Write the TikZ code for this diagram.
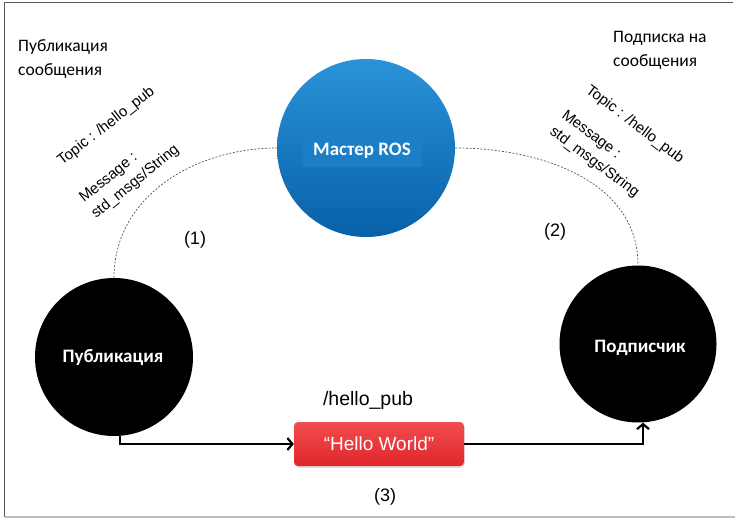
\documentclass[tikz,border=0pt]{standalone}
\usepackage{fontspec}
\setmainfont{Carlito}
\newfontfamily\arialf{Liberation Sans}
\usetikzlibrary{arrows.meta,shadows}
\definecolor{mblueTop}{HTML}{2A93D8}
\definecolor{mblueBot}{HTML}{0860A8}
\definecolor{mblueBox}{HTML}{1C7EC6}
\definecolor{redTop}{HTML}{F24D50}
\definecolor{redBot}{HTML}{DF2629}
\definecolor{frameDark}{HTML}{5A5A5A}
\definecolor{frameLight}{HTML}{BDBDBD}
\definecolor{dashGrey}{HTML}{555555}
\tikzset{
  x=1pt, y=-1pt,
  bignode/.style={circle, fill=black, inner sep=0pt, text=white,
    font=\bfseries\fontsize{19}{22}\selectfont},
  titletext/.style={anchor=north west, align=left, inner sep=0pt,
    font=\fontsize{17.5}{24.5}\selectfont},
  rottext/.style={anchor=base west, inner sep=0pt,
    font=\arialf\fontsize{15}{17}\selectfont},
  numtext/.style={inner sep=0pt, font=\arialf\fontsize{18}{21}\selectfont},
  dashedlink/.style={draw=dashGrey, line width=0.7pt, dash pattern=on 2pt off 1.6pt},
  flowarrow/.style={draw=black, line width=2.6pt,
    -{Straight Barb[length=5pt,width=12pt,line width=2.2pt]}},
  msgbox/.style={rounded corners=4pt, minimum width=170pt, minimum height=44pt,
    top color=redTop, bottom color=redBot, text=white, inner sep=0pt,
    font=\arialf\fontsize{19}{22}\selectfont,
    drop shadow={opacity=0.25, shadow xshift=0.8pt, shadow yshift=-1.8pt}},
}
\begin{document}
\begin{tikzpicture}
\useasboundingbox (0,0) rectangle (735,518);
% frame
\draw[frameDark, line width=1pt] (4.5,517) -- (4.5,3) -- (733,3);
\draw[frameLight, line width=1.2pt] (4.5,517) -- (735,517);

% main nodes
\node[circle, inner sep=0pt, minimum size=178pt, top color=mblueTop, bottom color=mblueBot] (master) at (366,148) {};
\node[fill=mblueBox, inner sep=0pt, minimum width=119pt, minimum height=32pt, text=white,
  font=\bfseries\fontsize{19}{22}\selectfont] (mastertext) at (362,151) {Мастер ROS};
\node[bignode, minimum size=158pt] (pub) at (114,357) {};
\node[text=white, inner sep=0pt, font=\bfseries\fontsize{19}{22}\selectfont] (pubtext) at (113,357) {Публикация};
\node[bignode, minimum size=157pt] (sub) at (638,344) {};
\node[text=white, inner sep=0pt, font=\bfseries\fontsize{19}{22}\selectfont] (subtext) at (640,348) {Подписчик};
\node[msgbox] (msg) at (379,444) {“Hello World”};

% dashed links
\draw[dashedlink] (pub.north) to[out=90, in=180] (master.west);
\draw[dashedlink] (master.east) to[out=0, in=90] (sub.north);

% flow arrows
\draw[flowarrow] ([xshift=6pt]pub.south) |- (msg.west);
\draw[flowarrow] (msg.east) -| ([xshift=5pt]sub.south);

% titles
\node[titletext] (pubtitle) at (18,39) {Публикация\\сообщения};
\node[titletext] (subtitle) at (613,31) {Подписка на\\сообщения};

% rotated texts, left
\node[rottext, rotate=38] (ltopic) at (62,166) {Topic : /hello\_pub};
\node[rottext, rotate=39] (lmsg) at (84,203) {Message :};
\node[rottext, rotate=39] (lstd) at (96,219) {std\_msgs/String};

% rotated texts, right
\node[rottext, rotate=-37] (rtopic) at (585,92) {Topic : /hello\_pub};
\node[rottext, rotate=-37] (rmsg) at (561,117) {Message :};
\node[rottext, rotate=-37] (rstd) at (549,133) {std\_msgs/String};

% numbers and topic label
\node[numtext] (n1) at (195,240) {(1)};
\node[numtext] (n2) at (555,232) {(2)};
\node[numtext] (n3) at (385,497) {(3)};
\node[numtext, font=\arialf\fontsize{19.5}{22}\selectfont] (topiclbl) at (368,400) {/hello\_pub};
\end{tikzpicture}
\end{document}
